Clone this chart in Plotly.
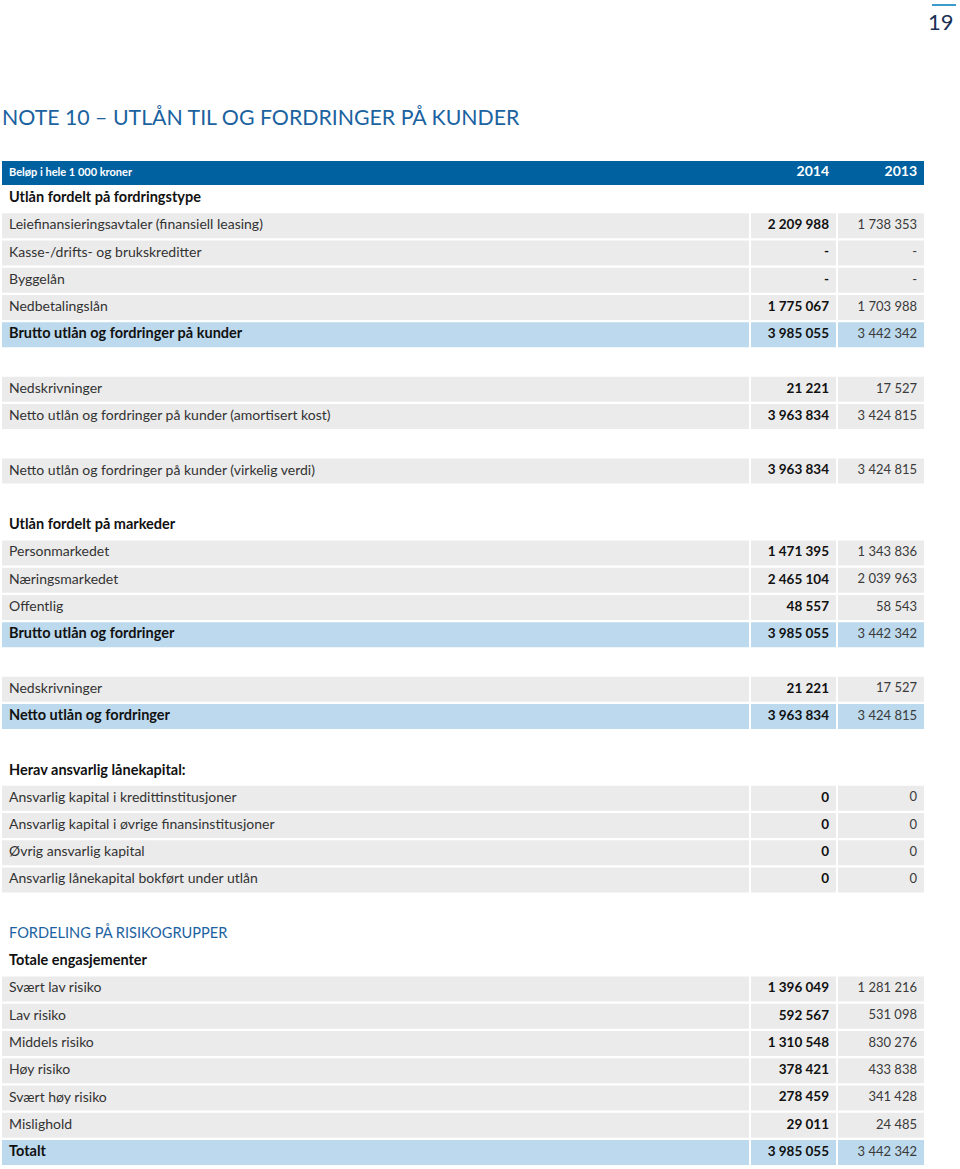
import plotly.graph_objects as go

# Radtekster og radtype (styrer farge/uthevning)
row_labels = [
    "Utlån fordelt på fordringstype",
    "Leiefinansieringsavtaler (finansiell leasing)",
    "Kasse-/drifts- og brukskreditter",
    "Byggelån",
    "Nedbetalingslån",
    "Brutto utlån og fordringer på kunder",
    "",
    "Nedskrivninger",
    "Netto utlån og fordringer på kunder (amortisert kost)",
    "",
    "Netto utlån og fordringer på kunder (virkelig verdi)",
    "",
    "Utlån fordelt på markeder",
    "Personmarkedet",
    "Næringsmarkedet",
    "Offentlig",
    "Brutto utlån og fordringer",
    "",
    "Nedskrivninger",
    "Netto utlån og fordringer",
    "",
    "Herav ansvarlig lånekapital:",
    "Ansvarlig kapital i kredittinstitusjoner",
    "Ansvarlig kapital i øvrige finansinstitusjoner",
    "Øvrig ansvarlig kapital",
    "Ansvarlig lånekapital bokført under utlån",
    "",
    "FORDELING PÅ RISIKOGRUPPER",
    "Totale engasjementer",
    "Svært lav risiko",
    "Lav risiko",
    "Middels risiko",
    "Høy risiko",
    "Svært høy risiko",
    "Mislighold",
    "Totalt",
]
row_kinds = [
    "heading", "item", "item", "item", "item", "total", "blank",
    "item", "item", "blank", "item", "blank",
    "heading", "item", "item", "item", "total", "blank",
    "item", "total", "blank",
    "heading", "item", "item", "item", "item", "blank",
    "section", "heading", "item", "item", "item", "item", "item", "item", "total",
]
# None = "-", "" = tom celle
values_2014 = [
    "", 2209988, None, None, 1775067, 3985055, "",
    21221, 3963834, "", 3963834, "",
    "", 1471395, 2465104, 48557, 3985055, "",
    21221, 3963834, "",
    "", 0, 0, 0, 0, "",
    "", "", 1396049, 592567, 1310548, 378421, 278459, 29011, 3985055,
]
values_2013 = [
    "", 1738353, None, None, 1703988, 3442342, "",
    17527, 3424815, "", 3424815, "",
    "", 1343836, 2039963, 58543, 3442342, "",
    17527, 3424815, "",
    "", 0, 0, 0, 0, "",
    "", "", 1281216, 531098, 830276, 433838, 341428, 24485, 3442342,
]
header_labels = ["Beløp i hele 1 000 kroner", "2014", "2013"]
title = "NOTE 10 – UTLÅN TIL OG FORDRINGER PÅ KUNDER"
page_no = "19"

BLUE = "#0061a1"
GREY = "#ebebeb"
LIGHTBLUE = "#bcd9ed"
TITLE_BLUE = "#1b62a0"
FONT = "Lato"

# kolonner i pikselenheter (x-aksen går 0..960)
COLS = [(2, 749), (751, 836), (838, 924)]
PITCH = 27.256          # radavstand i px
ROW0 = 171.3            # senter for rad 0 i px
HEAD_Y = 0.06           # headeren ligger litt lavere enn rad 0
H = 1169


def fmt(v):
    if v is None:
        return "-"
    if v == "":
        return ""
    return f"{v:,}".replace(",", " ")


rows = list(range(1, len(row_labels) + 1))
fill_map = {"item": GREY, "total": LIGHTBLUE}
filled = [(r, fill_map[k]) for r, k in zip(rows, row_kinds) if k in fill_map]

fig = go.Figure()

# headerlinje
fig.add_trace(go.Bar(
    y=[HEAD_Y], x=[COLS[-1][1] - COLS[0][0]], base=[COLS[0][0]], orientation="h",
    width=24 / PITCH, marker=dict(color=BLUE, line_width=0), hoverinfo="skip",
))
# cellebakgrunner
for x0, x1 in COLS:
    fig.add_trace(go.Bar(
        y=[r for r, _ in filled], x=[x1 - x0] * len(filled), base=[x0] * len(filled),
        orientation="h", width=25 / PITCH,
        marker=dict(color=[c for _, c in filled], line_width=0), hoverinfo="skip",
    ))

# tekst i første kolonne
lab_text, lab_color, lab_size = [], [], []
for lab, kind in zip(row_labels, row_kinds):
    if kind in ("heading", "total"):
        lab_text.append(f"<b>{lab}</b>")
        lab_color.append("#111111")
        lab_size.append(14.5)
    elif kind == "section":
        lab_text.append(lab)
        lab_color.append(TITLE_BLUE)
        lab_size.append(14.6)
    else:
        lab_text.append(lab)
        lab_color.append("#333333")
        lab_size.append(14)

fig.add_trace(go.Scatter(
    x=[9] * len(rows), y=rows, mode="text", text=lab_text,
    textposition="middle right",
    textfont=dict(family=FONT, size=lab_size, color=lab_color), hoverinfo="skip",
))
fig.add_trace(go.Scatter(
    x=[829] * len(rows), y=rows, mode="text",
    text=[f"<b>{fmt(v)}</b>" if fmt(v) else "" for v in values_2014],
    textposition="middle left",
    textfont=dict(family=FONT, size=13.5, color="#111111"), hoverinfo="skip",
))
fig.add_trace(go.Scatter(
    x=[917] * len(rows), y=rows, mode="text",
    text=[fmt(v) for v in values_2013],
    textposition="middle left",
    textfont=dict(family=FONT, size=13, color="#3a3a3a"), hoverinfo="skip",
))
# headertekst
fig.add_trace(go.Scatter(
    x=[9], y=[HEAD_Y], mode="text", text=[f"<b>{header_labels[0]}</b>"],
    textposition="middle right",
    textfont=dict(family=FONT, size=11, color="white"), hoverinfo="skip",
))
fig.add_trace(go.Scatter(
    x=[829, 917], y=[HEAD_Y, HEAD_Y], mode="text",
    text=[f"<b>{h}</b>" for h in header_labels[1:]],
    textposition="middle left",
    textfont=dict(family=FONT, size=14, color="white"), hoverinfo="skip",
))

fig.add_annotation(
    x=0, y=1 - 117 / H, xref="paper", yref="paper",
    xanchor="left", yanchor="middle", showarrow=False, text=title,
    font=dict(family=FONT, size=21.3, color=TITLE_BLUE),
)
fig.add_annotation(
    x=956 / 960, y=1 - 21 / H, xref="paper", yref="paper",
    xanchor="right", yanchor="middle", showarrow=False,
    text=page_no, font=dict(family=FONT, size=22, color="#1b2f55"),
)
fig.add_shape(type="line", xref="paper", yref="paper",
              x0=932 / 960, x1=956 / 960, y0=1 - 5 / H, y1=1 - 5 / H,
              line=dict(color="#3b9bcb", width=2))

fig.update_layout(
    width=960, height=H,
    margin=dict(l=0, r=0, t=0, b=0),
    paper_bgcolor="white", plot_bgcolor="white",
    barmode="overlay", showlegend=False, hovermode=False,
    xaxis=dict(range=[0, 960], visible=False, fixedrange=True),
    yaxis=dict(range=[(H - ROW0) / PITCH, -ROW0 / PITCH], visible=False, fixedrange=True),
)
fig.write_html("out.html", config={"displayModeBar": False},
               post_script="document.body.style.margin='0';")
